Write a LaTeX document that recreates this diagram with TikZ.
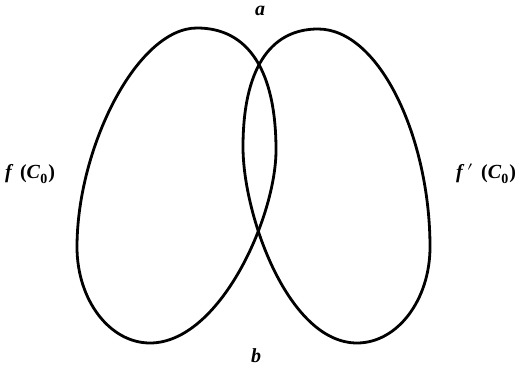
\documentclass[tikz,border=0pt]{standalone}
\usepackage{fontspec}
\setmainfont{Liberation Serif}
\usepackage{unicode-math}
\setmathfont{Latin Modern Math}
\begin{document}
\begin{tikzpicture}[x=0.5pt,y=-0.5pt,
  loop/.style={line width=1.4pt,black},
  lab/.style={inner sep=0pt,font=\fontsize{10}{12}\selectfont}]
\useasboundingbox (0,0) rectangle (518,368);
% left loop f(C0)
\draw[loop] (197,28) .. controls (248.4,28) and (276,70.7) .. (276,150)
  .. controls (276,217.6) and (219.3,343) .. (150,343)
  .. controls (109.7,343) and (77,300) .. (77,247)
  .. controls (77,148) and (137,28) .. cycle;
% right loop f'(C0)
\draw[loop] (318,29) .. controls (269.3,29) and (243,70.3) .. (243,147)
  .. controls (243,215.6) and (288.6,343) .. (357,343)
  .. controls (397.3,343) and (430,300) .. (430,247)
  .. controls (430,138) and (379.6,29) .. cycle;
\node[lab] (a) at (260,11) {\textbf{\textit{a}}};
\node[lab] (b) at (256,356) {\textbf{\textit{b}}};
\node[lab] (fl) at (30,174) {\textbf{\textit{f}\,\,(\textit{C}$_{\mathbf{0}}$)}};
\node[lab] (fr) at (486,174) {\textbf{\textit{f}\,$'$\,\,(\textit{C}$_{\mathbf{0}}$)}};
\end{tikzpicture}
\end{document}
